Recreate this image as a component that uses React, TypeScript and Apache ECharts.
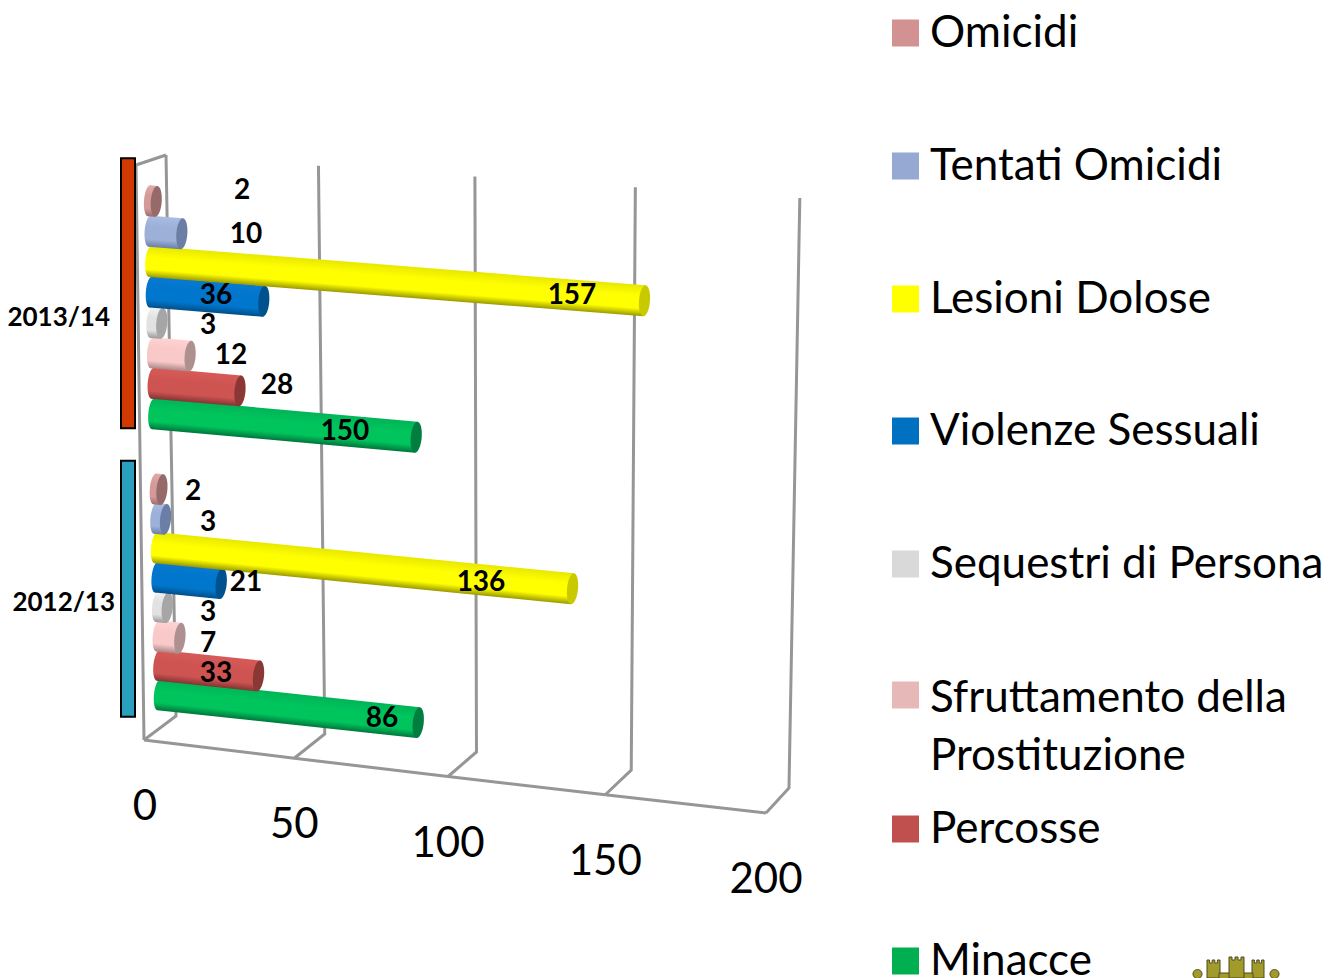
import React, { useEffect, useRef } from "react";
import * as echarts from "echarts";

const categories = ["2012/13", "2013/14"];
const seriesNames = [
  "Omicidi",
  "Tentati Omicidi",
  "Lesioni Dolose",
  "Violenze Sessuali",
  "Sequestri di Persona",
  "Sfruttamento della Prostituzione",
  "Percosse",
  "Minacce",
];
// bar lengths as drawn, per category [2012/13, 2013/14]
const omicidi = [2, 2];
const tentatiOmicidi = [3, 10];
const lesioniDolose = [136, 157];
const violenzeSessuali = [21, 36];
const sequestri = [3, 3];
const sfruttamento = [7, 12];
const percosse = [33, 28];
const minacce = [86, 85];
const seriesValues = [omicidi, tentatiOmicidi, lesioniDolose, violenzeSessuali, sequestri, sfruttamento, percosse, minacce];
// printed data labels (the 2013/14 Minacce label differs from its drawn bar)
const labels2012 = ["2", "3", "136", "21", "3", "7", "33", "86"];
const labels2013 = ["2", "10", "157", "36", "3", "12", "28", "150"];
const xTicks = [0, 50, 100, 150, 200];

// ---- styling / layout tables
const swatch = ["#D39292", "#95A9D3", "#FFFF00", "#0070C0", "#D9D9D9", "#E6B8B7", "#C0504D", "#00B050"];
const tube = [
  ["#e2a9a9", "#d49a9a", "#9c6e6e", "#976a6a"],
  ["#a9bce2", "#9cb0d8", "#6c7fa6", "#6b7fa6"],
  ["#e8e800", "#ffff00", "#9a9a00", "#c9c900"],
  ["#0a7ad0", "#0076cc", "#004f8a", "#00528f"],
  ["#f2f2f2", "#e2e2e2", "#9a9a9a", "#a6a6a6"],
  ["#ffd2d2", "#f9c8c8", "#a88888", "#ae9090"],
  ["#d65a58", "#ce5452", "#823432", "#8a3735"],
  ["#00b458", "#00c45c", "#00763c", "#007e40"],
];
const legendCenters = [33, 166, 299, 431, 564, 695, 829, 961];
const labelAnchors2013 = [[242, 188], [246, 232], [572, 293], [216, 293], [208, 323], [231, 353], [277, 383], [345, 429]];
const labelAnchors2012 = [[193, 489], [208, 520], [481, 580], [246, 580], [208, 610], [208, 641], [216, 671], [382, 716]];
const bandBoxes = [
  { off: [-130, 126], fill: "#2A9FBE", textX: 115, textY: 601 },
  { off: [-148, 122], fill: "#D03A00", textX: 110, textY: 316 },
];
const FONT = "Lato";

// wall planes: start point, x/y gain along the value axis, perspective bow
const FRONT = { x: 144, y: 740, a: 1, c: 7, sy: 73 / 622 };
const BACK = { x: 176, y: 716, a: 0.9855, c: 6, sy: 72 / 622 };
const TOP = { x: 166, y: 155, a: 1.019, c: 8, sy: 43 / 622 };
const wall = (p: any, u: number, t: number) => [p.x + p.a * u - p.c * 4 * t * (1 - t), p.y + p.sy * u];

const renderWalls = (params: any, api: any) => {
  const v = api.value(0);
  const x0 = api.coord([0, 0])[0];
  const u = api.coord([v, 0])[0] - x0;
  const t = v / 200;
  const f = wall(FRONT, u, t);
  const b = wall(BACK, u, t);
  const top = wall(TOP, u, t);
  const style = { stroke: "#969696", lineWidth: 3, fill: "none" };
  const children: any[] = [
    { type: "polyline", shape: { points: [top, b, f] }, style },
    {
      type: "text",
      style: {
        text: String(v),
        x: f[0] + (v === 0 ? 1 : 0),
        y: f[1] + 64,
        align: "center",
        verticalAlign: "middle",
        font: `42px ${FONT}`,
        fill: "#000",
      },
    },
  ];
  if (v < 200) {
    const nextV = v + 50;
    const nu = api.coord([nextV, 0])[0] - x0;
    children.push({ type: "polyline", shape: { points: [f, wall(FRONT, nu, nextV / 200)] }, style });
  }
  if (v === 0) {
    children.push({ type: "polyline", shape: { points: [[136, 165], top] }, style });
    children.push({ type: "polyline", shape: { points: [[136, 165], f] }, style });
  }
  return { type: "group", children };
};

const renderBands = (params: any, api: any) => {
  const c = api.value(0);
  const cy = api.coord([0, c])[1];
  const box = bandBoxes[c];
  return {
    type: "group",
    children: [
      {
        type: "rect",
        shape: { x: 121, y: cy + box.off[0], width: 14, height: box.off[1] - box.off[0] },
        style: { fill: box.fill, stroke: "#000", lineWidth: 2 },
      },
      {
        type: "text",
        style: {
          text: categories[c],
          x: box.textX,
          y: box.textY,
          align: "right",
          verticalAlign: "middle",
          font: `bold 26px ${FONT}`,
          fill: "#000",
        },
      },
    ],
  };
};

const makeBarRenderer = (i: number) => (params: any, api: any) => {
  const v = api.value(0);
  const c = api.value(1);
  const p = api.coord([v, c]);
  const p0 = api.coord([0, c]);
  const spacing = c === 1 ? 30.4 : 29.4;
  const yc = p[1] + (i - 3.5) * spacing + 0.6;
  const xs = 144 + ((yc - 200) * 10) / 494;
  const slope = 0.079 + ((yc - 262) * 0.029) / 432;
  const k = 1.005 - ((yc - 262) * 0.036) / 432;
  const u = p[0] - p0[0];
  const len = 6 + u * k + 4 * Math.pow(u / 488, 3);
  const [hi, mid, lo, cap] = tube[i];
  const fill = () =>
    new echarts.graphic.LinearGradient(0, 0, 0, 1, [
      { offset: 0, color: hi },
      { offset: 0.35, color: mid },
      { offset: 0.75, color: mid },
      { offset: 1, color: lo },
    ]);
  const ry = 15.5;
  return {
    type: "group",
    x: xs,
    y: yc,
    rotation: -Math.atan(slope),
    children: [
      { type: "ellipse", shape: { cx: 5, cy: 0, rx: 5, ry }, style: { fill: fill() } },
      { type: "rect", shape: { x: 5, y: -ry, width: len - 5, height: ry * 2 }, style: { fill: fill() } },
      { type: "ellipse", shape: { cx: len, cy: 0, rx: 5.5, ry }, style: { fill: cap } },
    ],
  };
};

const renderLabels = (params: any, api: any) => {
  const c = api.value(0);
  const i = api.value(1);
  const anchors = c === 1 ? labelAnchors2013 : labelAnchors2012;
  const texts = c === 1 ? labels2013 : labels2012;
  return {
    type: "text",
    style: {
      text: texts[i],
      x: anchors[i][0],
      y: anchors[i][1],
      align: "center",
      verticalAlign: "middle",
      font: `bold 28px ${FONT}`,
      fill: "#000",
    },
  };
};

const labelRows: number[][] = [];
[0, 1].forEach((c) => seriesNames.forEach((_, i) => labelRows.push([c, i])));

const crest = { fill: "#A39A2C", stroke: "#4d4a1c" };
const battlement = (x: number, w: number, top: number, bottom: number) => {
  const n = 3;
  const pts: number[][] = [[x, bottom]];
  const step = w / (2 * n - 1);
  for (let j = 0; j < n; j++) {
    pts.push([x + 2 * j * step, top], [x + (2 * j + 1) * step, top]);
    if (j < n - 1) pts.push([x + (2 * j + 1) * step, top + 3], [x + (2 * j + 2) * step, top + 3]);
  }
  pts.push([x + w, bottom]);
  return {
    type: "polygon",
    shape: { points: pts },
    style: { fill: crest.fill, stroke: crest.stroke, lineWidth: 1 },
  };
};

export default function App() {
  const ref = useRef<HTMLDivElement>(null);
  useEffect(() => {
    document.body.style.margin = "0";
    document.body.style.overflow = "hidden";
    const chart = echarts.init(ref.current!, undefined, { renderer: "svg" });
    const legends = seriesNames.map((name, i) => {
      const multi = i === 5;
      return {
        data: [name],
        left: 892,
        top: multi ? legendCenters[i] - 87 : legendCenters[i] - 25,
        orient: "vertical",
        padding: 0,
        icon: "rect",
        itemWidth: 27,
        itemHeight: 27,
        selectedMode: false,
        formatter: multi ? () => " \nSfruttamento della\nProstituzione" : (n: string) => `{a|${n}}`,
        textStyle: {
          fontFamily: FONT,
          fontSize: 44,
          color: "#000",
          lineHeight: multi ? 58 : 36,
          padding: [0, 0, 0, 6],
          rich: multi
            ? undefined
            : { a: { fontFamily: FONT, fontSize: 44, color: "#000", lineHeight: 36, padding: [0, 0, 6, 0] } },
        },
      };
    });
    chart.setOption({
      animation: false,
      backgroundColor: "#fff",
      grid: { left: 144, width: 622, top: 164, height: 569 },
      xAxis: { type: "value", min: 0, max: 200, interval: 50, show: false },
      yAxis: { type: "category", data: categories, show: false },
      legend: legends,
      graphic: [
        { type: "circle", shape: { cx: 1197.5, cy: 974, r: 4.5 }, style: { fill: crest.fill, stroke: crest.stroke } },
        { type: "circle", shape: { cx: 1274.5, cy: 974, r: 4.5 }, style: { fill: crest.fill, stroke: crest.stroke } },
        battlement(1207, 13, 960, 978),
        battlement(1252, 12, 960, 978),
        { type: "rect", shape: { x: 1219, y: 973, width: 34, height: 6 }, style: { fill: crest.fill, stroke: crest.stroke } },
        battlement(1229, 15, 957, 978),
      ],
      series: [
        {
          type: "custom",
          name: "walls",
          z: 1,
          silent: true,
          encode: { x: 0 },
          data: xTicks.map((t) => [t, 0]),
          renderItem: renderWalls,
        },
        {
          type: "custom",
          name: "bands",
          z: 2,
          silent: true,
          data: [[0], [1]],
          encode: { y: 0 },
          renderItem: renderBands,
        },
        ...seriesNames.map((name, i) => ({
          type: "custom",
          name,
          z: 20 - i,
          silent: true,
          itemStyle: { color: swatch[i] },
          encode: { x: 0, y: 1 },
          data: seriesValues[i].map((v, c) => [v, c]),
          renderItem: makeBarRenderer(i),
        })),
        {
          type: "custom",
          name: "labels",
          z: 40,
          silent: true,
          data: labelRows,
          renderItem: renderLabels,
        },
      ],
    });
    return () => chart.dispose();
  }, []);
  return <div ref={ref} style={{ width: 1332, height: 978 }} />;
}
